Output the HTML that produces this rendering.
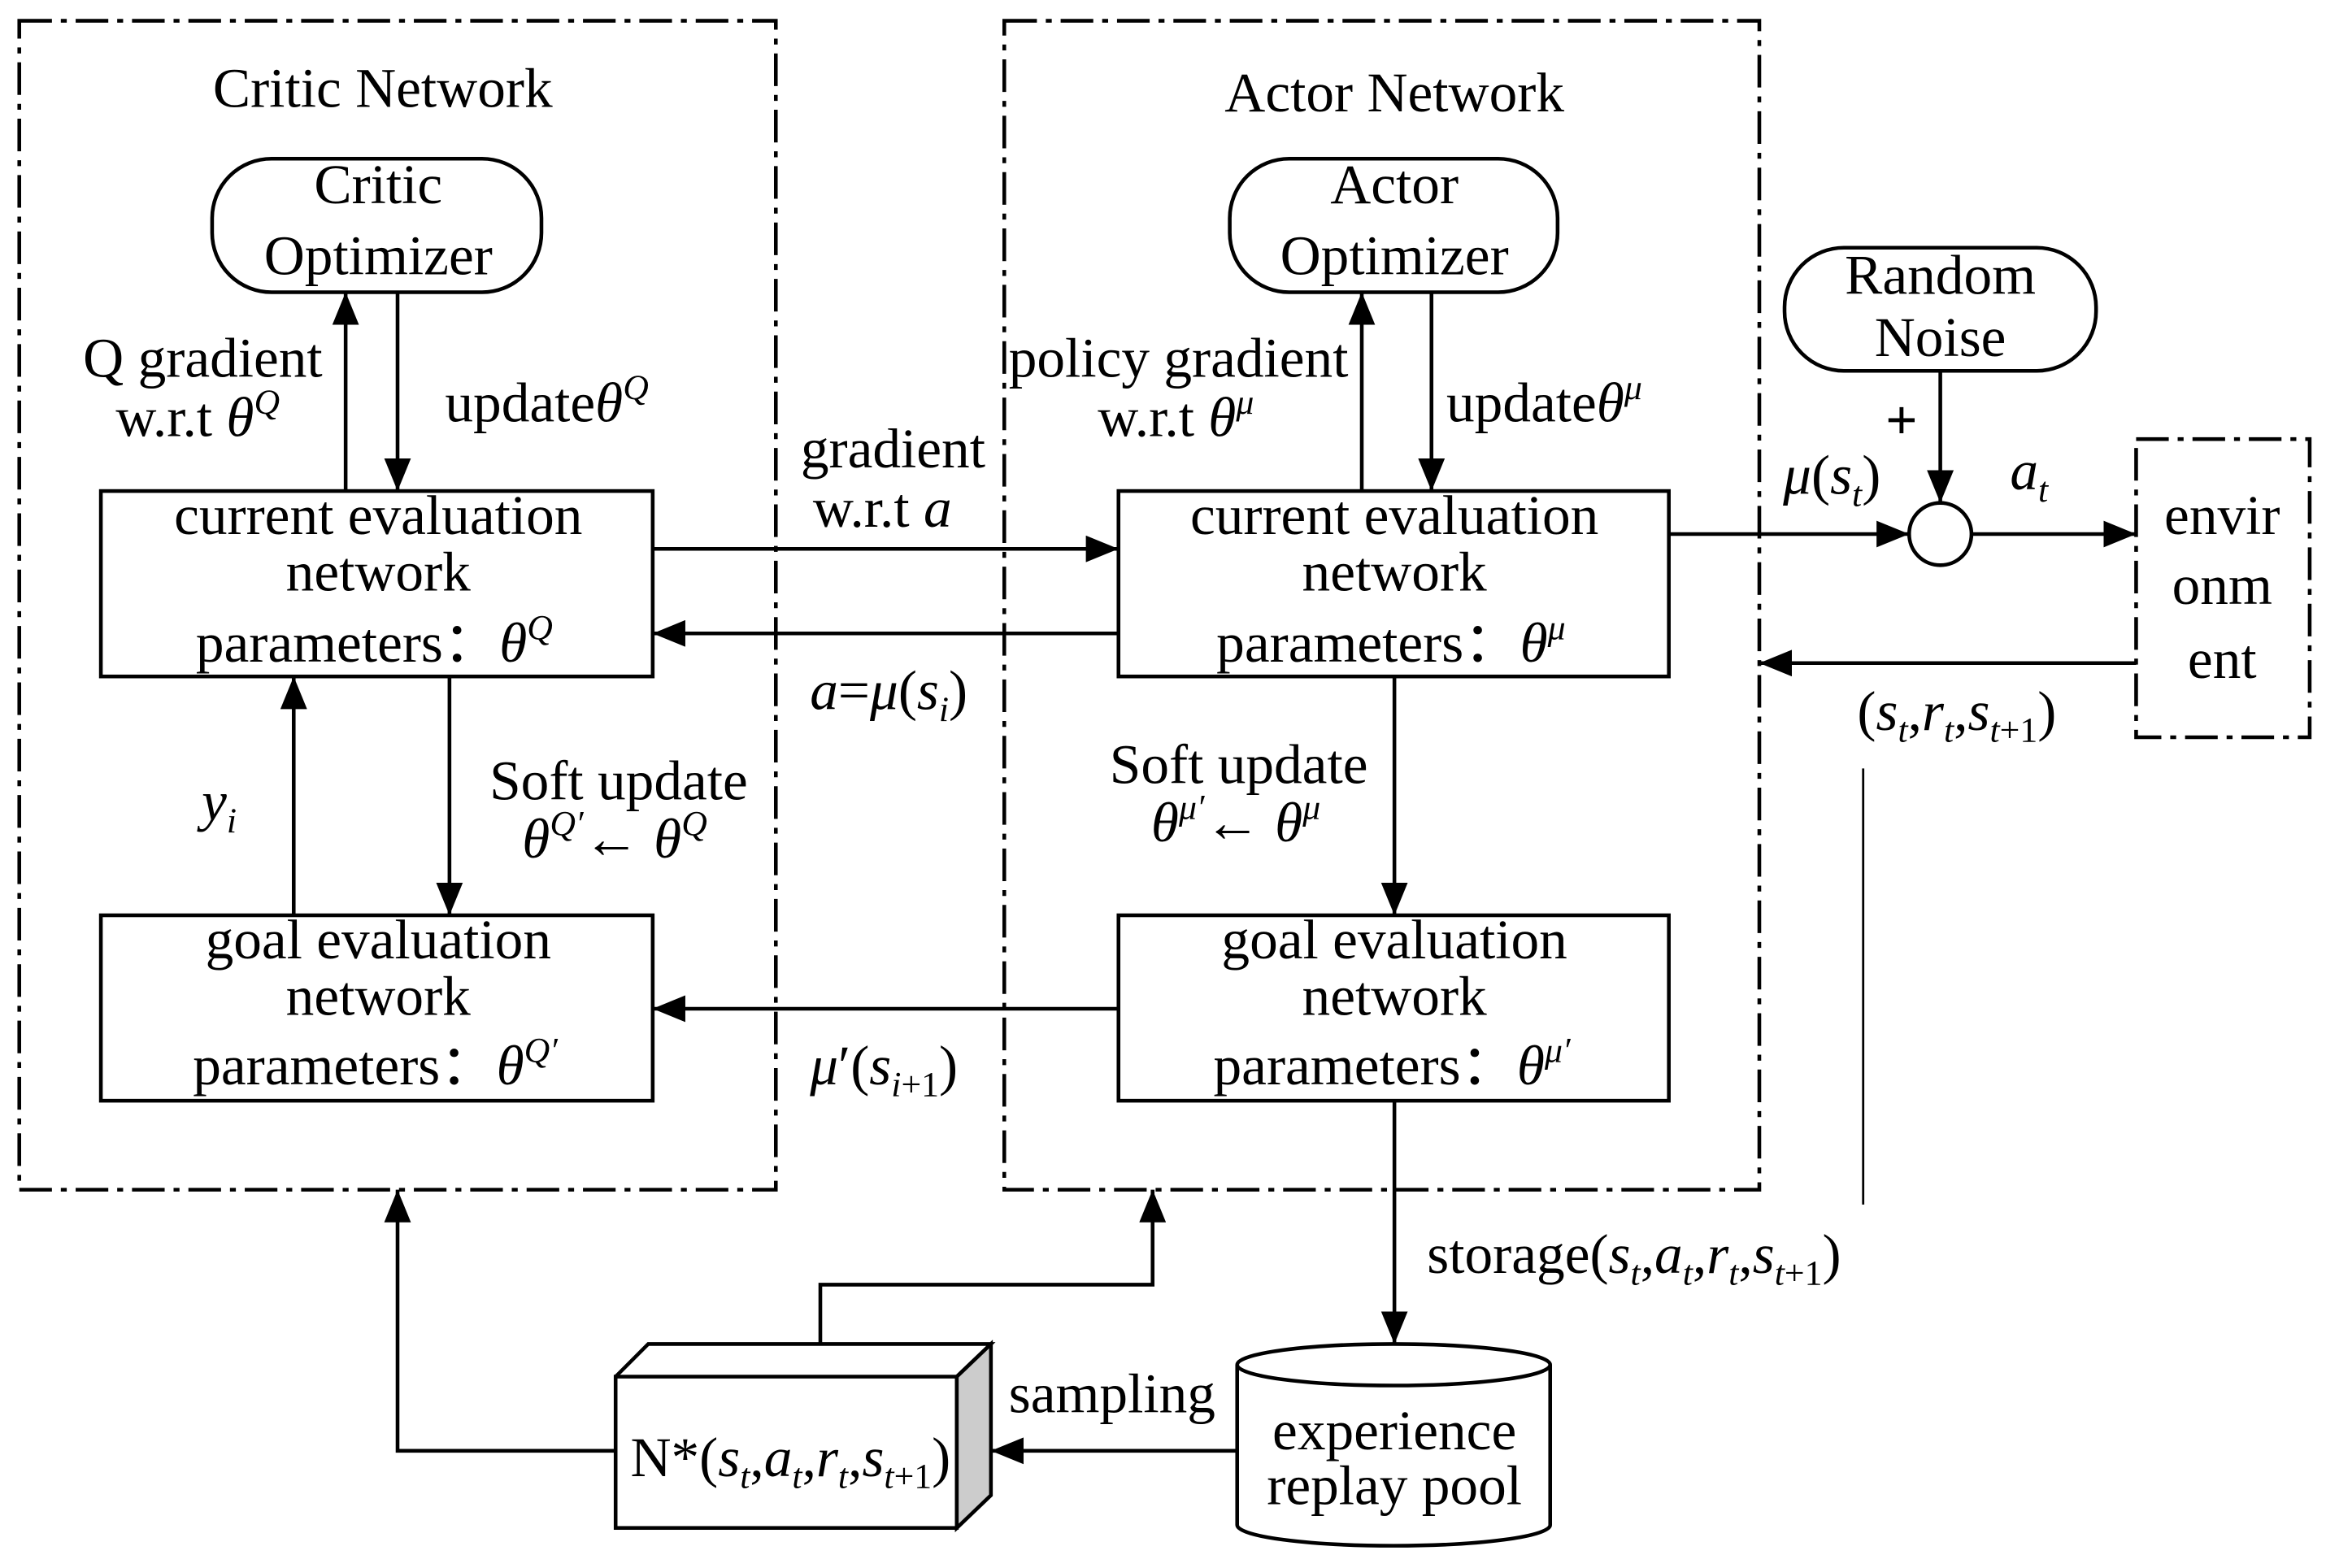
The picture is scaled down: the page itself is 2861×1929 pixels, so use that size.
<!DOCTYPE html>
<html><head><meta charset="utf-8"><style>
html,body{margin:0;padding:0;background:#fff;}
svg{display:block;}
text{font-family:"Liberation Serif",serif;font-size:38px;fill:#000;}
.i{font-style:italic;}
</style></head><body>
<svg width="2861" height="1929" viewBox="0 0 1568 1057" preserveAspectRatio="none" xmlns="http://www.w3.org/2000/svg">
<defs>
<marker id="A" markerWidth="22" markerHeight="18" refX="22" refY="9" orient="auto" markerUnits="userSpaceOnUse" viewBox="0 0 22 18">
<path d="M0,0 L22,9 L0,18 z" fill="#000"/></marker>
</defs>
<g fill="none" stroke="#000" stroke-width="2.5">
<rect x="13" y="14" width="510" height="788" stroke-dasharray="22,6,4,6"/>
<rect x="677" y="14" width="509" height="788" stroke-dasharray="22,6,4,6"/>
<rect x="1440" y="296" width="117" height="201" stroke-dasharray="22,6,4,6"/>
<rect x="143" y="107" width="222" height="90" rx="40"/>
<rect x="829" y="107" width="221" height="90" rx="40"/>
<rect x="1203" y="167" width="210" height="83" rx="40"/>
<rect x="68" y="331" width="372" height="125"/>
<rect x="754" y="331" width="371" height="125"/>
<rect x="68" y="617" width="372" height="125"/>
<rect x="754" y="617" width="371" height="125"/>
<circle cx="1308" cy="360" r="21"/>
<rect x="415" y="928" width="230" height="102"/>
<path d="M415,928 L437,906 L668,906 L645,928"/>
<path d="M645,928 L668,906 L668,1008 L645,1030 z" fill="#ccc"/>
<path d="M834,920 L834,1028 A105.5,14 0 0 0 1045,1028 L1045,920"/>
<ellipse cx="939.5" cy="920" rx="105.5" ry="14"/>
<line x1="233" y1="331" x2="233" y2="197" marker-end="url(#A)"/>
<line x1="268" y1="197" x2="268" y2="331" marker-end="url(#A)"/>
<line x1="918" y1="331" x2="918" y2="197" marker-end="url(#A)"/>
<line x1="965" y1="197" x2="965" y2="331" marker-end="url(#A)"/>
<line x1="440" y1="370" x2="754" y2="370" marker-end="url(#A)"/>
<line x1="754" y1="427" x2="440" y2="427" marker-end="url(#A)"/>
<line x1="303" y1="456" x2="303" y2="617" marker-end="url(#A)"/>
<line x1="198" y1="617" x2="198" y2="456" marker-end="url(#A)"/>
<line x1="940" y1="456" x2="940" y2="617" marker-end="url(#A)"/>
<line x1="754" y1="680" x2="440" y2="680" marker-end="url(#A)"/>
<line x1="1125" y1="360" x2="1287" y2="360" marker-end="url(#A)"/>
<line x1="1308" y1="250" x2="1308" y2="339" marker-end="url(#A)"/>
<line x1="1329" y1="360" x2="1440" y2="360" marker-end="url(#A)"/>
<line x1="1440" y1="447" x2="1186" y2="447" marker-end="url(#A)"/>
<line x1="940" y1="742" x2="940" y2="906" marker-end="url(#A)"/>
<line x1="834" y1="978" x2="668" y2="978" marker-end="url(#A)"/>
<polyline points="415,978 268,978 268,802" marker-end="url(#A)"/>
<polyline points="553,906 553,866 777,866 777,802" marker-end="url(#A)"/>
<line x1="1256" y1="518" x2="1256" y2="812" stroke-width="1.5"/>
</g>
<g text-anchor="middle">
<text x="258" y="72">Critic Network</text>
<text x="940" y="75">Actor  Network</text>
<text x="255" y="137">Critic</text>
<text x="255" y="185">Optimizer</text>
<text x="940" y="137">Actor</text>
<text x="940" y="185">Optimizer</text>
<text x="1308" y="198">Random</text>
<text x="1308" y="240">Noise</text>
<text x="255" y="360">current evaluation</text>
<text x="255" y="398">network</text>
<text x="940" y="360">current evaluation</text>
<text x="940" y="398">network</text>
<text x="255" y="646">goal evaluation</text>
<text x="255" y="684">network</text>
<text x="940" y="646">goal evaluation</text>
<text x="940" y="684">network</text>
<text x="1498" y="360">envir</text>
<text x="1498" y="407">onm</text>
<text x="1498" y="457">ent</text>
<text x="940" y="977">experience</text>
<text x="940" y="1014">replay pool</text>
<text x="602" y="315">gradient</text>
</g>
<text x="132" y="446">parameters：<tspan class="i">θ</tspan><tspan class="i" font-size="24" dy="-15">Q</tspan></text>
<text x="820" y="446">parameters：<tspan class="i">θ</tspan><tspan class="i" font-size="24" dy="-15">μ</tspan></text>
<text x="130" y="731">parameters：<tspan class="i">θ</tspan><tspan class="i" font-size="24" dy="-15">Q′</tspan></text>
<text x="818" y="731">parameters：<tspan class="i">θ</tspan><tspan class="i" font-size="24" dy="-15">μ′</tspan></text>
<text x="56" y="254">Q gradient</text>
<text x="78" y="294">w.r.t <tspan class="i">θ</tspan><tspan class="i" font-size="24" dy="-15">Q</tspan></text>
<text x="300" y="284">update<tspan class="i">θ</tspan><tspan class="i" font-size="24" dy="-15">Q</tspan></text>
<text x="680" y="254">policy gradient</text>
<text x="740" y="294">w.r.t <tspan class="i">θ</tspan><tspan class="i" font-size="24" dy="-15">μ</tspan></text>
<text x="975" y="284">update<tspan class="i">θ</tspan><tspan class="i" font-size="24" dy="-15">μ</tspan></text>
<text x="548" y="355">w.r.t <tspan class="i">a</tspan></text>
<text x="546" y="478"><tspan class="i">a</tspan>=<tspan class="i">μ</tspan>(<tspan class="i">s</tspan><tspan class="i" font-size="24" dy="8">i</tspan><tspan dy="-8">)</tspan></text>
<text x="330" y="539">Soft update</text>
<text x="352" y="578"><tspan class="i">θ</tspan><tspan class="i" font-size="24" dy="-15">Q′</tspan><tspan dy="15">← </tspan><tspan class="i">θ</tspan><tspan class="i" font-size="24" dy="-15">Q</tspan></text>
<text x="748" y="528">Soft update</text>
<text x="776" y="567"><tspan class="i">θ</tspan><tspan class="i" font-size="24" dy="-15">μ′</tspan><tspan dy="15">← </tspan><tspan class="i">θ</tspan><tspan class="i" font-size="24" dy="-15">μ</tspan></text>
<text x="136" y="553" class="i">y<tspan font-size="24" dy="8">i</tspan></text>
<text x="546" y="731"><tspan class="i">μ</tspan>′(<tspan class="i">s</tspan><tspan font-size="24" dy="8"><tspan class="i">i</tspan>+1</tspan><tspan dy="-8">)</tspan></text>
<text x="1202" y="333"><tspan class="i">μ</tspan>(<tspan class="i">s</tspan><tspan class="i" font-size="24" dy="8">t</tspan><tspan dy="-8">)</tspan></text>
<text x="1355" y="330" class="i">a<tspan font-size="24" dy="8">t</tspan></text>
<text x="1271" y="296" font-size="42" font-weight="bold">+</text>
<text x="1252" y="492">(<tspan class="i">s</tspan><tspan class="i" font-size="24" dy="8">t</tspan><tspan dy="-8">,</tspan><tspan class="i">r</tspan><tspan class="i" font-size="24" dy="8">t</tspan><tspan dy="-8">,</tspan><tspan class="i">s</tspan><tspan font-size="24" dy="8"><tspan class="i">t</tspan>+1</tspan><tspan dy="-8">)</tspan></text>
<text x="962" y="858">storage(<tspan class="i">s</tspan><tspan class="i" font-size="24" dy="8">t</tspan><tspan dy="-8">,</tspan><tspan class="i">a</tspan><tspan class="i" font-size="24" dy="8">t</tspan><tspan dy="-8">,</tspan><tspan class="i">r</tspan><tspan class="i" font-size="24" dy="8">t</tspan><tspan dy="-8">,</tspan><tspan class="i">s</tspan><tspan font-size="24" dy="8"><tspan class="i">t</tspan>+1</tspan><tspan dy="-8">)</tspan></text>
<text x="680" y="952">sampling</text>
<text x="425" y="995">N*(<tspan class="i">s</tspan><tspan class="i" font-size="24" dy="8">t</tspan><tspan dy="-8">,</tspan><tspan class="i">a</tspan><tspan class="i" font-size="24" dy="8">t</tspan><tspan dy="-8">,</tspan><tspan class="i">r</tspan><tspan class="i" font-size="24" dy="8">t</tspan><tspan dy="-8">,</tspan><tspan class="i">s</tspan><tspan font-size="24" dy="8"><tspan class="i">t</tspan>+1</tspan><tspan dy="-8">)</tspan></text>
</svg>
</body></html>
